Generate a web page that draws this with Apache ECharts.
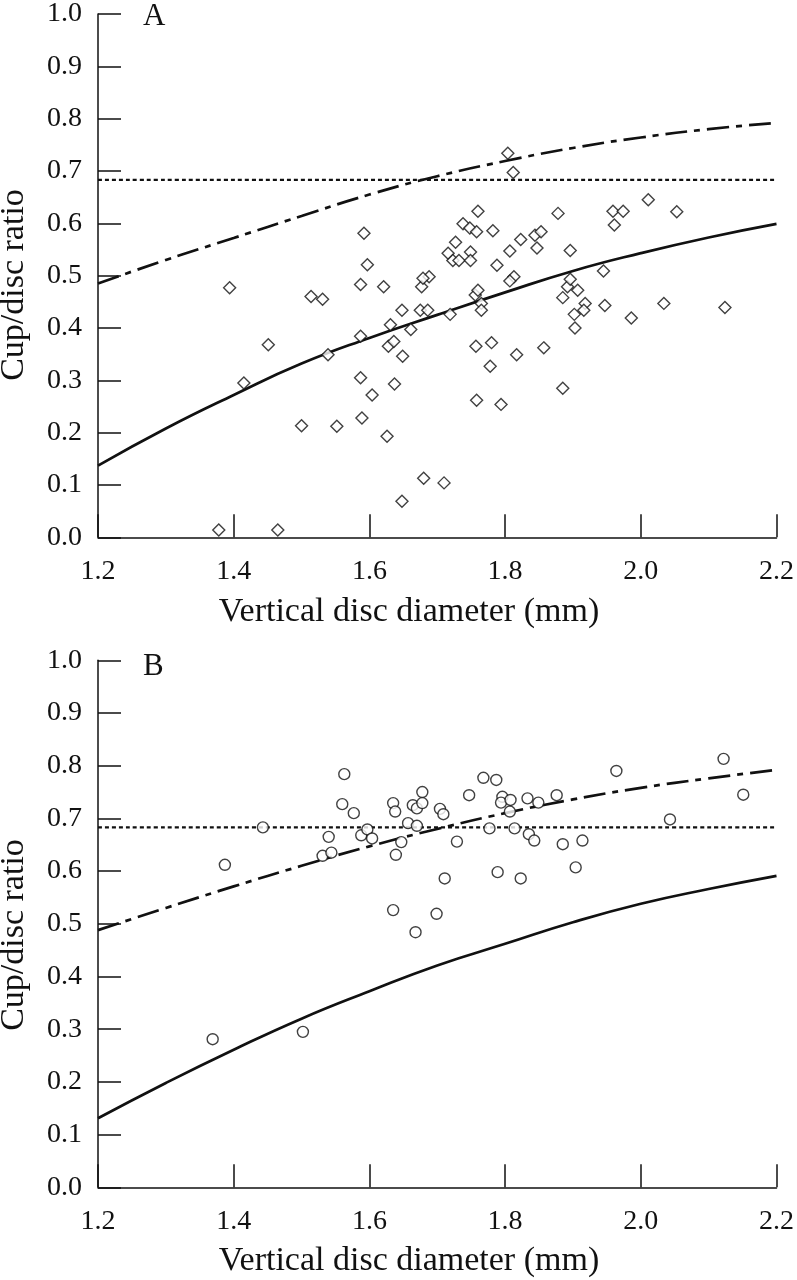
<!DOCTYPE html>
<html>
<head>
<meta charset="utf-8">
<script src="https://cdn.jsdelivr.net/npm/echarts@6/dist/echarts.min.js"></script>
<style>
  html, body { margin: 0; padding: 0; background: #fff; }
  #chart { width: 797px; height: 1280px; }
</style>
</head>
<body>
<div id="chart"></div>
<script>
// ---------- Data ----------
const xTickLabels = ['1.2', '1.4', '1.6', '1.8', '2.0', '2.2'];
const yTickLabels = ['0.0','0.1','0.2','0.3','0.4','0.5','0.6','0.7','0.8','0.9','1.0'];

// Panel A: diamonds (vertical disc diameter, cup/disc ratio)
const diamondsA = [
  [1.394,0.477],[1.514,0.460],[1.531,0.455],[1.592,0.581],[1.597,0.521],[1.587,0.483],
  [1.621,0.479],[1.631,0.406],[1.587,0.384],[1.451,0.368],[1.539,0.349],[1.628,0.365],
  [1.636,0.374],[1.415,0.295],[1.587,0.305],[1.604,0.272],[1.637,0.293],[1.500,0.213],
  [1.552,0.212],[1.589,0.228],[1.626,0.193],[1.378,0.014],[1.465,0.014],[1.677,0.479],
  [1.892,0.479],[1.907,0.472],[1.756,0.463],[1.760,0.472],[1.885,0.458],[1.648,0.434],
  [1.675,0.434],[1.686,0.434],[1.765,0.447],[1.765,0.434],[1.719,0.426],[1.918,0.447],
  [1.916,0.434],[1.947,0.443],[2.034,0.447],[2.124,0.439],[1.902,0.426],[1.986,0.419],
  [1.903,0.400],[1.661,0.397],[1.649,0.346],[1.757,0.365],[1.780,0.372],[1.817,0.349],
  [1.857,0.362],[1.778,0.327],[1.885,0.285],[1.758,0.262],[1.794,0.254],[1.680,0.113],
  [1.710,0.104],[1.648,0.069],[1.804,0.734],[1.812,0.697],[1.760,0.623],[1.738,0.599],
  [1.748,0.591],[1.758,0.584],[1.782,0.586],[1.878,0.619],[1.959,0.623],[1.974,0.623],
  [1.961,0.597],[2.011,0.645],[2.053,0.622],[1.727,0.564],[1.716,0.543],[1.723,0.529],
  [1.732,0.529],[1.749,0.545],[1.749,0.529],[1.823,0.569],[1.844,0.577],[1.853,0.584],
  [1.847,0.553],[1.807,0.547],[1.788,0.520],[1.896,0.548],[1.945,0.509],[1.813,0.498],
  [1.807,0.490],[1.896,0.493],[1.688,0.498],[1.679,0.495]
];

// Panel B: circles
const circlesB = [
  [1.387,0.612],[1.443,0.683],[1.563,0.784],[1.560,0.727],[1.577,0.710],[1.540,0.665],
  [1.531,0.629],[1.544,0.635],[1.588,0.668],[1.597,0.679],[1.604,0.662],[1.635,0.729],
  [1.638,0.713],[1.639,0.631],[1.635,0.526],[1.647,0.655],[1.657,0.691],[1.664,0.725],
  [1.670,0.719],[1.670,0.686],[1.678,0.750],[1.678,0.729],[1.704,0.718],[1.709,0.708],
  [1.729,0.656],[1.747,0.744],[1.768,0.777],[1.787,0.773],[1.777,0.681],[1.796,0.741],
  [1.794,0.730],[1.808,0.735],[1.807,0.713],[1.814,0.681],[1.833,0.738],[1.849,0.730],
  [1.835,0.670],[1.843,0.658],[1.876,0.744],[1.885,0.651],[1.914,0.658],[1.904,0.607],
  [1.964,0.790],[2.043,0.698],[2.122,0.813],[2.151,0.745],[1.711,0.586],[1.789,0.598],
  [1.823,0.586],[1.699,0.519],[1.668,0.484],[1.369,0.281],[1.502,0.295]
];

// Reference curves
const curveX   = [1.2, 1.3, 1.4, 1.5, 1.6, 1.7, 1.8, 1.9, 2.0, 2.1, 2.2];
const solidA   = [0.137,0.208,0.272,0.332,0.381,0.425,0.468,0.509,0.543,0.573,0.599];
const dashDotA = [0.485,0.530,0.572,0.614,0.655,0.690,0.719,0.744,0.764,0.780,0.792];
const solidB   = [0.131,0.198,0.261,0.320,0.372,0.421,0.462,0.503,0.538,0.566,0.591];
const dashDotB = [0.488,0.530,0.571,0.610,0.647,0.680,0.710,0.736,0.758,0.776,0.792];
const cutoffX  = [1.2, 2.2];
const cutoffA  = [0.683, 0.683];
const cutoffB  = [0.683, 0.683];

// ---------- Chart ----------
const FONT = "'Liberation Serif', 'DejaVu Serif', serif";
const INK = '#111';
const pair = (xs, ys) => xs.map((x, i) => [x, ys[i]]);

function xAxisDef(gi) {
  return {
    type: 'value', gridIndex: gi, min: 1.2, max: 2.2, interval: 0.2,
    axisLine: { show: true, onZero: false, lineStyle: { color: INK, width: 1.5 } },
    axisTick: { show: true, inside: true, length: 23, lineStyle: { color: INK, width: 1.5 } },
    splitLine: { show: false },
    axisLabel: { margin: 20, fontFamily: FONT, fontSize: 28, color: INK,
      formatter: v => xTickLabels[Math.round((v - 1.2) / 0.2)] }
  };
}
function yAxisDef(gi) {
  return {
    type: 'value', gridIndex: gi, min: 0, max: 1, interval: 0.1,
    axisLine: { show: true, onZero: false, lineStyle: { color: INK, width: 1.5 } },
    axisTick: { show: true, inside: true, length: 23, lineStyle: { color: INK, width: 1.5 } },
    splitLine: { show: false },
    axisLabel: { margin: 16, fontFamily: FONT, fontSize: 28, color: INK,
      formatter: v => yTickLabels[Math.round(v * 10)] }
  };
}
function lineSeries(gi, data, type, width) {
  return {
    type: 'line', xAxisIndex: gi, yAxisIndex: gi, data: data,
    smooth: true, showSymbol: false, silent: true, z: 2,
    lineStyle: { color: INK, width: width, type: type }
  };
}
function scatterSeries(gi, data, symbol, size, bw) {
  return {
    type: 'scatter', xAxisIndex: gi, yAxisIndex: gi, data: data,
    symbol: symbol, symbolSize: size, z: 3,
    itemStyle: { color: '#fff', borderColor: INK, borderWidth: bw }
  };
}

const chart = echarts.init(document.getElementById('chart'), null, { renderer: 'canvas' });
chart.setOption({
  animation: false,
  backgroundColor: '#fff',
  grid: [
    { left: 98, top: 10.3, width: 682, height: 527 },
    { left: 98, top: 660.3, width: 682, height: 527 }
  ],
  xAxis: [xAxisDef(0), xAxisDef(1)],
  yAxis: [yAxisDef(0), yAxisDef(1)],
  series: [
    lineSeries(0, pair(cutoffX, cutoffA), [4, 3], 2.2),
    lineSeries(0, pair(curveX, dashDotA), [22, 7, 6, 7], 2.7),
    lineSeries(0, pair(curveX, solidA), 'solid', 2.7),
    scatterSeries(0, diamondsA, 'diamond', 12, 1.4),
    lineSeries(1, pair(cutoffX, cutoffB), [4, 3], 2.2),
    lineSeries(1, pair(curveX, dashDotB), [22, 7, 6, 7], 2.7),
    lineSeries(1, pair(curveX, solidB), 'solid', 2.7),
    scatterSeries(1, circlesB, 'circle', 11, 1.4)
  ],
  graphic: [
    { type: 'text', left: 143, top: 1, style: { text: 'A', font: "31px " + FONT, fill: INK } },
    { type: 'text', left: 143, top: 651, style: { text: 'B', font: "31px " + FONT, fill: INK } },
    { type: 'text', x: 409, y: 612, style: { text: 'Vertical disc diameter (mm)', font: "34px " + FONT, fill: INK, align: 'center', verticalAlign: 'middle' } },
    { type: 'text', x: 409, y: 1261, style: { text: 'Vertical disc diameter (mm)', font: "34px " + FONT, fill: INK, align: 'center', verticalAlign: 'middle' } },
    { type: 'text', x: 14, y: 285, rotation: Math.PI / 2, style: { text: 'Cup/disc ratio', font: "34px " + FONT, fill: INK, align: 'center', verticalAlign: 'middle' } },
    { type: 'text', x: 14, y: 935, rotation: Math.PI / 2, style: { text: 'Cup/disc ratio', font: "34px " + FONT, fill: INK, align: 'center', verticalAlign: 'middle' } }
  ]
});
</script>
</body>
</html>
